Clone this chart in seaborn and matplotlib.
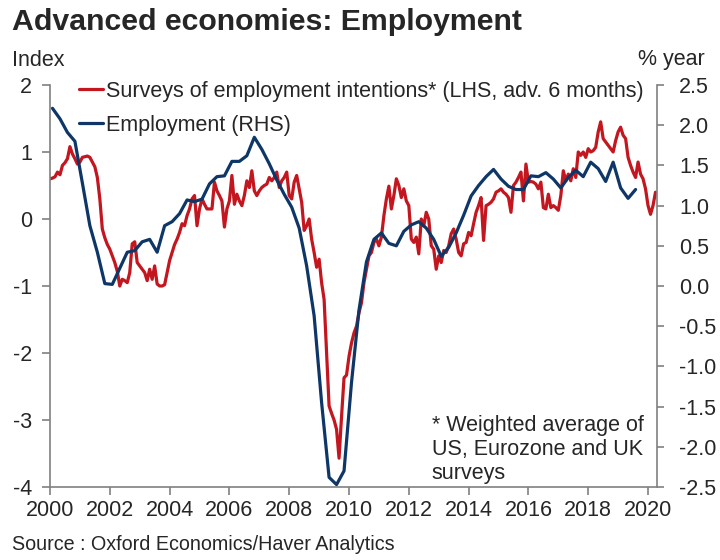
import pandas as pd
import seaborn as sns
import matplotlib.pyplot as plt

# survey index (LHS, advanced 6 months), monthly Jan 2000 - Apr 2020
surveys = [
    0.60, 0.61, 0.63, 0.70, 0.66, 0.80, 0.84, 0.90, 1.08, 0.97, 0.90, 0.82,      # 2000
    0.85, 0.92, 0.93, 0.94, 0.92, 0.85, 0.78, 0.62, 0.30, -0.15, -0.28, -0.38,   # 2001
    -0.45, -0.55, -0.65, -0.78, -1.00, -0.90, -0.92, -0.95, -0.80, -0.37, -0.34, -0.65,  # 2002
    -0.70, -0.75, -0.80, -0.92, -0.75, -0.90, -0.70, -0.97, -1.00, -1.00, -0.98, -0.80,  # 2003
    -0.62, -0.50, -0.38, -0.30, -0.20, -0.07, -0.10, 0.05, 0.15, 0.30, 0.35, -0.10,      # 2004
    0.15, 0.30, 0.22, 0.15, 0.15, 0.15, 0.55, 0.42, 0.35, 0.27, -0.12, 0.15,             # 2005
    0.27, 0.65, 0.22, 0.37, 0.27, 0.20, 0.35, 0.57, 0.47, 0.72, 0.42, 0.35,              # 2006
    0.42, 0.47, 0.50, 0.52, 0.62, 0.57, 0.62, 0.70, 0.47, 0.57, 0.62, 0.70,              # 2007
    0.35, 0.30, 0.55, 0.65, 0.45, 0.25, -0.17, -0.10, 0.00, -0.30, -0.50, -0.72,         # 2008
    -0.60, -0.95, -1.20, -2.00, -2.79, -2.90, -3.00, -3.14, -3.57, -2.95, -2.37, -2.33,  # 2009
    -2.05, -1.85, -1.70, -1.60, -1.40, -1.25, -0.95, -0.75, -0.55, -0.50, -0.35, -0.30,  # 2010
    -0.40, -0.27, 0.05, 0.30, 0.49, 0.15, 0.35, 0.60, 0.50, 0.32, 0.45, 0.27,            # 2011
    0.20, -0.30, -0.35, -0.27, -0.52, 0.00, -0.10, 0.10, 0.00, -0.40, -0.45, -0.75,      # 2012
    -0.55, -0.65, -0.47, -0.50, -0.40, -0.22, -0.15, -0.30, -0.50, -0.55, -0.37, -0.35,  # 2013
    -0.20, -0.25, -0.07, 0.10, 0.20, 0.32, -0.32, 0.20, 0.22, 0.25, 0.30, 0.40,          # 2014
    0.42, 0.45, 0.40, 0.37, 0.32, 0.10, 0.50, 0.55, 0.62, 0.70, 0.27, 0.82,              # 2015
    0.55, 0.56, 0.55, 0.52, 0.45, 0.55, 0.17, 0.15, 0.37, 0.17, 0.20, 0.17,              # 2016
    0.13, 0.35, 0.72, 0.57, 0.67, 0.57, 0.75, 0.62, 1.00, 0.95, 1.00, 0.92,              # 2017
    1.05, 1.00, 1.02, 1.07, 1.30, 1.45, 1.20, 1.15, 1.10, 1.05, 1.00, 1.17,              # 2018
    1.30, 1.37, 1.25, 1.20, 0.92, 0.80, 0.70, 0.62, 0.85, 0.67, 0.60, 0.45,              # 2019
    0.20, 0.07, 0.20, 0.40,                                                              # 2020
]

# employment growth, % year (RHS), quarterly 2000Q1 - 2019Q3
employment = [
    2.21, 2.08, 1.91, 1.80,   # 2000
    1.28, 0.75, 0.42, 0.03,   # 2001
    0.02, 0.22, 0.42, 0.44,   # 2002
    0.55, 0.58, 0.42, 0.75,   # 2003
    0.80, 0.90, 1.07, 1.05,   # 2004
    1.08, 1.27, 1.36, 1.37,   # 2005
    1.55, 1.55, 1.62, 1.85,   # 2006
    1.70, 1.52, 1.32, 1.14,   # 2007
    0.98, 0.72, 0.25, -0.37,  # 2008
    -1.45, -2.38, -2.47, -2.30,  # 2009
    -1.20, -0.30, 0.30, 0.58,    # 2010
    0.66, 0.53, 0.50, 0.68,   # 2011
    0.76, 0.80, 0.72, 0.58,   # 2012
    0.37, 0.48, 0.66, 0.88,   # 2013
    1.12, 1.25, 1.36, 1.45,   # 2014
    1.33, 1.24, 1.20, 1.20,   # 2015
    1.37, 1.36, 1.41, 1.33,   # 2016
    1.22, 1.35, 1.44, 1.36,   # 2017
    1.54, 1.46, 1.30, 1.54,   # 2018
    1.22, 1.09, 1.20,         # 2019
]

left_ticks = [2, 1, 0, -1, -2, -3, -4]
right_ticks = [2.5, 2.0, 1.5, 1.0, 0.5, 0.0, -0.5, -1.0, -1.5, -2.0, -2.5]
year_ticks = list(range(2000, 2021, 2))

m_dates = pd.date_range('2000-01-01', periods=len(surveys), freq='MS')
q_dates = pd.date_range('2000-02-01', periods=len(employment), freq='3MS')
df_s = pd.DataFrame({'year': m_dates.year + (m_dates.month - 1) / 12, 'value': surveys})
df_e = pd.DataFrame({'year': q_dates.year + (q_dates.month - 1) / 12, 'value': employment})

sns.set_style('ticks')
plt.rcParams['font.family'] = ['Liberation Sans', 'DejaVu Sans']
plt.rcParams['axes.unicode_minus'] = False

RED = '#C3161F'
BLUE = '#0E3768'
GREY = '#808080'
fs = 15.5

fig = plt.figure(figsize=(7.2, 5.6), dpi=100)
ax = fig.add_axes([50 / 720, 73 / 560, 607 / 720, 402 / 560])
ax2 = ax.twinx()

sns.lineplot(data=df_s, x='year', y='value', ax=ax, color=RED, lw=2.3,
             label='Surveys of employment intentions* (LHS, adv. 6 months)', legend=False)
sns.lineplot(data=df_e, x='year', y='value', ax=ax2, color=BLUE, lw=2.3,
             label='Employment (RHS)', legend=False)

ax.set_xlim(2000.05, 2020.3)
ax.set_ylim(-4, 2)
ax2.set_ylim(-2.5, 2.5)
ax.set_xticks(year_ticks)
ax.set_yticks(left_ticks)
ax2.set_yticks(right_ticks)
ax2.set_yticklabels([f'{v:.1f}' for v in right_ticks])
for a in (ax, ax2):
    a.set_xlabel('')
    a.set_ylabel('')
    a.spines['top'].set_visible(False)
    for s in a.spines.values():
        s.set_color(GREY)
        s.set_linewidth(1.2)
ax.spines['right'].set_visible(False)
ax2.spines['left'].set_visible(False)
ax2.spines['bottom'].set_visible(False)
ax.tick_params(axis='y', direction='out', length=6, width=1.2, color=GREY, labelsize=fs, pad=7)
ax.tick_params(axis='x', direction='out', length=6, width=1.2, color=GREY, labelsize=fs, pad=3)
ax2.tick_params(axis='y', direction='out', length=5, width=1.2, color=GREY, labelsize=fs, pad=11)

h1, l1 = ax.get_legend_handles_labels()
h2, l2 = ax2.get_legend_handles_labels()
ax2.legend(h1 + h2, l1 + l2, loc='upper left', bbox_to_anchor=(0.048, 1.01), frameon=False,
           fontsize=fs, handlelength=1.1, handletextpad=0.15, borderpad=0, borderaxespad=0,
           labelspacing=0.6)

ax2.text(0.629, 0.18, '* Weighted average of\nUS, Eurozone and UK\nsurveys', transform=ax2.transAxes,
         fontsize=fs, ha='left', va='top', linespacing=1.2)

fig.text(12 / 720, 1 - 60 / 560, 'Index', fontsize=fs, va='center', ha='left')
fig.text(705 / 720, 1 - 60 / 560, '% year', fontsize=fs, va='center', ha='right')
fig.text(12 / 720, 1 - 22 / 560, 'Advanced economies: Employment', fontsize=21.8, fontweight='bold',
         va='center', ha='left')
fig.text(12 / 720, 1 - 545 / 560, 'Source : Oxford Economics/Haver Analytics', fontsize=14.2,
         va='center', ha='left')

fig.savefig('out.png', dpi=100)
